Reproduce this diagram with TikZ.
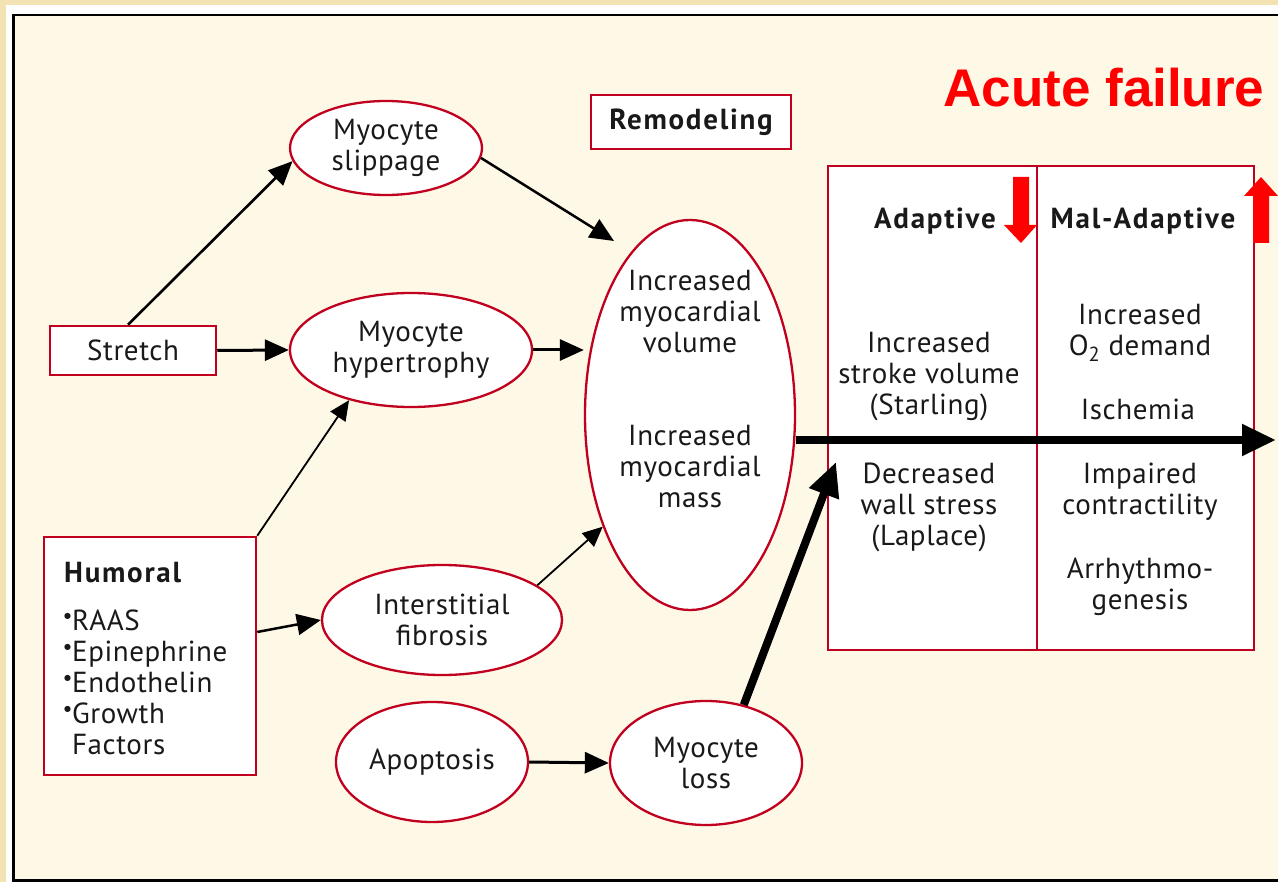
\documentclass[tikz,border=0pt]{standalone}
\usepackage{fontspec}
\setmainfont{PT Sans}[LetterSpace=2, BoldFeatures={LetterSpace=6}]
\newfontfamily\arialfont{Liberation Sans}
\newfontfamily\dejavufont{DejaVu Sans}
\usetikzlibrary{shapes.geometric,arrows.meta}
\definecolor{outerbg}{HTML}{F4E3B2}
\definecolor{cream}{HTML}{FEF8E7}
\definecolor{bord}{HTML}{C0001E}
\definecolor{redA}{HTML}{FF0000}
\newcommand{\bul}{\raisebox{12pt}{\dejavufont\fontsize{8}{8}\selectfont ●}\kern1pt}
\begin{document}
\begin{tikzpicture}[x=1pt,y=-1pt,
  every node/.style={font=\fontsize{29}{31}\selectfont, align=center, text=black!90},
  oval/.style={ellipse, draw=bord, line width=2.3pt, fill=white, inner sep=0pt},
  boxr/.style={rectangle, draw=bord, line width=2.5pt, fill=white, inner sep=0pt},
  conn/.style={line width=3pt, -{Triangle[length=24pt,width=21pt]}},
  thinconn/.style={line width=1.8pt, -{Triangle[length=20pt,width=18pt]}},
  fatconn/.style={line width=8pt, -{Triangle[length=34pt,width=30pt]}},
  plain/.style={inner sep=0pt}
]
\useasboundingbox (0,0) rectangle (1278,882);
\fill[outerbg] (0,0) rectangle (1278,882);
\fill[white] (6,5) rectangle (1278,882);
\fill[cream] (13,15) rectangle (1278,880);
\draw[line width=2.5pt] (1280,15) -- (13.5,15) -- (13.5,880.5) -- (1280,880.5);

% title
\node[plain, anchor=base, text=redA, font=\arialfont\bfseries\fontsize{53}{53}\selectfont] (title) at (1104,107) {Acute failure};

% nodes
\node[boxr, minimum width=200, minimum height=54] (remod) at (691,122) {\bfseries Remodeling};
\node[oval, minimum width=192, minimum height=94] (slip) at (386,148) {Myocyte\\slippage};
\node[oval, minimum width=242, minimum height=114] (hyp) at (411,350) {Myocyte\\hypertrophy};
\node[boxr, minimum width=166, minimum height=49] (stretch) at (133,350.5) {Stretch};
\node[oval, minimum width=210, minimum height=390] (big) at (690,415) {};
\node[plain] (bigtxt1) at (690,312) {Increased\\myocardial\\volume};
\node[plain] (bigtxt2) at (690,467) {Increased\\myocardial\\mass};
\node[boxr, minimum width=212, minimum height=238] (hum) at (150,656) {};
\node[plain, anchor=north west, align=left] (humtxt) at (64,562)
  {\bfseries Humoral\\[17pt]\bul RAAS\\\bul Epinephrine\\\bul Endothelin\\\bul Growth\\\hphantom{\bul}Factors};
\node[oval, minimum width=240, minimum height=110] (fib) at (442,620) {Interstitial\\fibrosis};
\node[oval, minimum width=192, minimum height=120] (apo) at (432,762) {Apoptosis};
\node[oval, minimum width=192, minimum height=124] (loss) at (706,763) {Myocyte\\loss};

% right box
\node[boxr, minimum width=426, minimum height=484] (rbox) at (1041,408) {};
\draw[bord, line width=2.5pt] (rbox.north -| 1037,0) -- (rbox.south -| 1037,0);
\node[plain] (adap) at (935,221) {\bfseries Adaptive};
\node[plain] (mal) at (1143,221) {\bfseries Mal-Adaptive};
\node[plain] (a1) at (929,377) {Increased\\stroke volume\\(Starling)};
\node[plain] (a2) at (929,507) {Decreased\\wall stress\\(Laplace)};
\node[plain] (m1) at (1140,333) {Increased\\O\textsubscript{2} demand};
\node[plain] (m2) at (1138,409) {Ischemia};
\node[plain] (m3) at (1140,492) {Impaired\\contractility};
\node[plain] (m4) at (1140,587) {Arrhythmo-\\genesis};

% red arrows
\fill[redA] (1013,177) -- (1029,177) -- (1029,225) -- (1037,225) -- (1021,243) -- (1004,225) -- (1013,225) -- cycle;
\fill[redA] (1253,243) -- (1269,243) -- (1269,196) -- (1278,196) -- (1261,177) -- (1244,196) -- (1253,196) -- cycle;

% connectors
\coordinate (slipin) at (614,241);
\coordinate (losstip) at (836,462);
\coordinate (outtip) at (1276,440);
\draw[conn, line width=2.6pt] ([xshift=-5pt]stretch.north) -- (slip.188);
\draw[conn] (stretch.east) -- (hyp.west);
\draw[conn, line width=2.5pt] (slip.-6) -- (slipin);
\draw[conn] (hyp.east) -- ([yshift=65pt]big.west);
\draw[thinconn] (hum.north east) -- (hyp.219);
\draw[conn, line width=2.5pt] ([yshift=24pt]hum.east) -- (fib.west);
\draw[thinconn] (fib.20) -- (big.232);
\draw[conn] (apo.east) -- (loss.west);
\draw[fatconn] (loss.57) -- (losstip);
\draw[fatconn] ([yshift=-25pt]big.east) -- (outtip);
\end{tikzpicture}
\end{document}
